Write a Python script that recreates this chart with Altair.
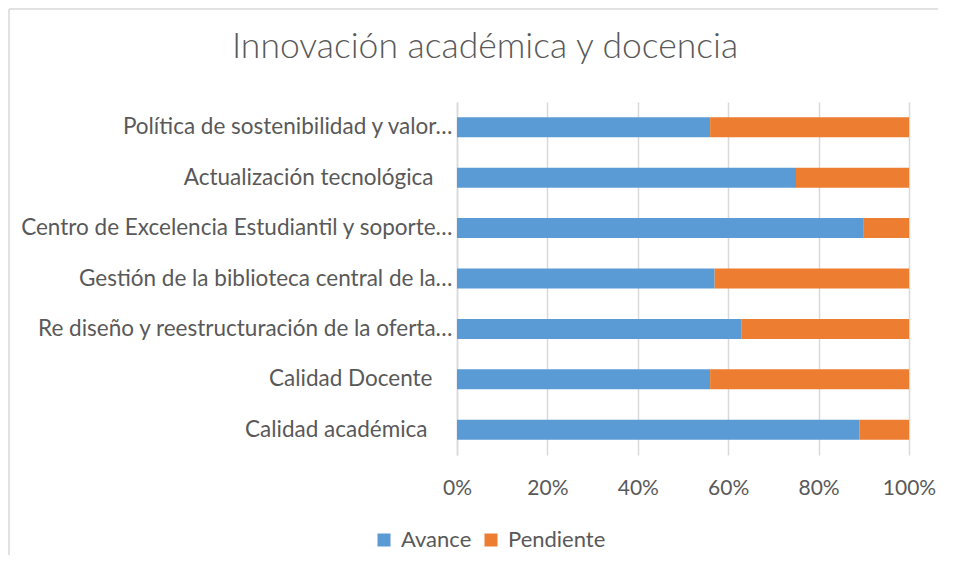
import altair as alt
import pandas as pd

title_text = "Innovación académica y docencia"
categories = [
    "Política de sostenibilidad y valor…",
    "Actualización tecnológica ",
    "Centro de Excelencia Estudiantil y soporte…",
    "Gestión de la biblioteca central de la…",
    "Re diseño y reestructuración de la oferta…",
    "Calidad Docente ",
    "Calidad académica ",
]
avance = [56, 75, 90, 57, 63, 56, 89]
pendiente = [44, 25, 10, 43, 37, 44, 11]
series = ["Avance", "Pendiente"]
colors = ["#5B9BD5", "#ED7D31"]

rows = []
for c, a, p in zip(categories, avance, pendiente):
    rows.append({"cat": c, "serie": "Avance", "val": a, "ord": 0})
    rows.append({"cat": c, "serie": "Pendiente", "val": p, "ord": 1})
df = pd.DataFrame(rows)

FONT = "Lato"
TXT = "#595959"

# labels that end with trailing spaces in the original sit further from the axis
label_pad = {
    "condition": [
        {"test": "indexof(datum.value, 'Calidad acad') == 0", "value": 30},
        {"test": "indexof(datum.value, 'Calidad Doc') == 0", "value": 25},
        {"test": "indexof(datum.value, 'Actualizaci') == 0", "value": 24},
    ],
    "value": 5,
}

bars = alt.Chart(df).mark_bar(size=20).encode(
    y=alt.Y("cat:N", sort=categories, title=None,
            axis=alt.Axis(labelFont=FONT, labelFontSize=22.5, labelColor=TXT,
                          labelPadding=label_pad, ticks=False, domain=True,
                          domainColor="#d9d9d9", domainWidth=1.5,
                          labelLimit=500, grid=False),
            scale=alt.Scale(paddingInner=0.6, paddingOuter=0.3)),
    x=alt.X("val:Q", stack="normalize", title=None,
            scale=alt.Scale(domain=[0, 1], nice=False),
            axis=alt.Axis(format="%", values=[0, 0.2, 0.4, 0.6, 0.8, 1.0],
                          labelFont=FONT, labelFontSize=21, labelColor=TXT,
                          labelFlush=False, labelOverlap=False,
                          ticks=False, tickSize=0, domain=False, labelPadding=22,
                          grid=True, gridColor="#d9d9d9", gridWidth=1.5)),
    color=alt.Color("serie:N", sort=series,
                    scale=alt.Scale(domain=series, range=colors),
                    legend=alt.Legend(title=None, orient="none", direction="horizontal",
                                      legendX=-84, legendY=427,
                                      symbolType="square", symbolSize=169,
                                      symbolStrokeWidth=0,
                                      labelFont=FONT, labelFontSize=22,
                                      labelColor=TXT, columnPadding=8,
                                      labelOffset=6)),
    order=alt.Order("ord:Q"),
)

title = alt.Chart(pd.DataFrame({"t": [title_text]})).mark_text(
    font=FONT, fontSize=35.5, fontWeight=300, color=TXT, align="center", baseline="middle"
).encode(text="t:N", x=alt.value(28), y=alt.value(-55))

one = pd.DataFrame({"k": [0]})
border = alt.Chart(one).mark_rule(color="#d9d9d9", strokeWidth=1.5).encode(
    x=alt.value(-448), y=alt.value(-93), y2=alt.value(480)
)
border_top = alt.Chart(one).mark_rule(color="#d9d9d9", strokeWidth=1.5).encode(
    x=alt.value(-448), x2=alt.value(481), y=alt.value(-93)
)

chart = alt.layer(bars, title, border, border_top).properties(
    width=452,
    height=353,
    autosize=alt.AutoSizeParams(type="none"),
    padding={"left": 449, "top": 94, "right": 37, "bottom": 100},
).configure_view(stroke=None)

chart.save("out.html", embed_options={"renderer": "svg", "actions": False})
